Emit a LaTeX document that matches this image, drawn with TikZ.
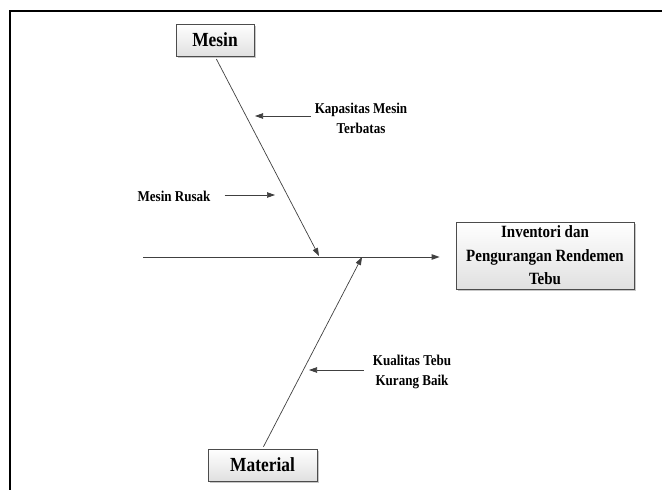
\documentclass[tikz,border=0pt]{standalone}
\usepackage{fontspec}
\setmainfont{Liberation Serif}
\newfontfamily\narrowserif[FakeStretch=0.87]{Liberation Serif}
\usetikzlibrary{arrows.meta,shadows}

\begin{document}
\begin{tikzpicture}[x=1pt,y=-1pt,
  line/.style={draw=black!75, line width=0.7pt},
  arr/.style={line, -{Triangle[length=8pt,width=5.5pt]}},
  box/.style={draw=black!70, line width=0.8pt, top color=white, bottom color=black!12,
    drop shadow={shadow xshift=1.6pt, shadow yshift=-1.6pt, fill=black!40, opacity=0.55},
    align=center, inner sep=0pt},
  headbox/.style={box, font=\narrowserif\bfseries\fontsize{20}{24}\selectfont},
  effectbox/.style={box, font=\narrowserif\bfseries\fontsize{17.2}{23.5}\selectfont},
  cause/.style={align=center, inner sep=1pt, font=\narrowserif\bfseries\fontsize{15}{20}\selectfont}]

\useasboundingbox (0,0) rectangle (662,490);

% frame around the diagram
\draw[line width=1.4pt] (10,490) -- (10,11) -- (662,11);

% category boxes and effect box
\node[headbox, minimum width=78pt, minimum height=32pt] (mesin) at (215,40) {Mesin};
\node[headbox, minimum width=109pt, minimum height=32pt] (material) at (262.5,465) {Material};
\node[effectbox, minimum width=178pt, minimum height=67pt] (effect) at (545,255.5)
  {Inventori dan\\Pengurangan Rendemen\\Tebu};

% spine
\coordinate (tail) at (143,257);
\draw[arr, line width=0.9pt, shorten >=16pt] (tail) -- (effect.west |- tail);

% bones
\coordinate (mhead) at (319,256);
\coordinate (mathead) at (362,257);
\draw[arr, shorten <=3pt] (mesin.south) -- (mhead);
\draw[arr, shorten <=2pt] (material.north) -- (mathead);

% causes
\node[cause] (kap) at (361,118) {Kapasitas Mesin\\Terbatas};
\coordinate (k1) at (255,116);
\draw[arr, shorten <=3pt] (kap.west |- k1) -- (k1);

\node[cause] (rus) at (174,196) {Mesin Rusak};
\coordinate (r1) at (275,195);
\draw[arr, shorten <=13pt] (rus.east |- r1) -- (r1);

\node[cause] (kua) at (412,372) {Kualitas Tebu\\Kurang Baik};
\coordinate (q1) at (309,370);
\draw[arr, shorten <=8pt] (kua.west |- q1) -- (q1);

\end{tikzpicture}
\end{document}
